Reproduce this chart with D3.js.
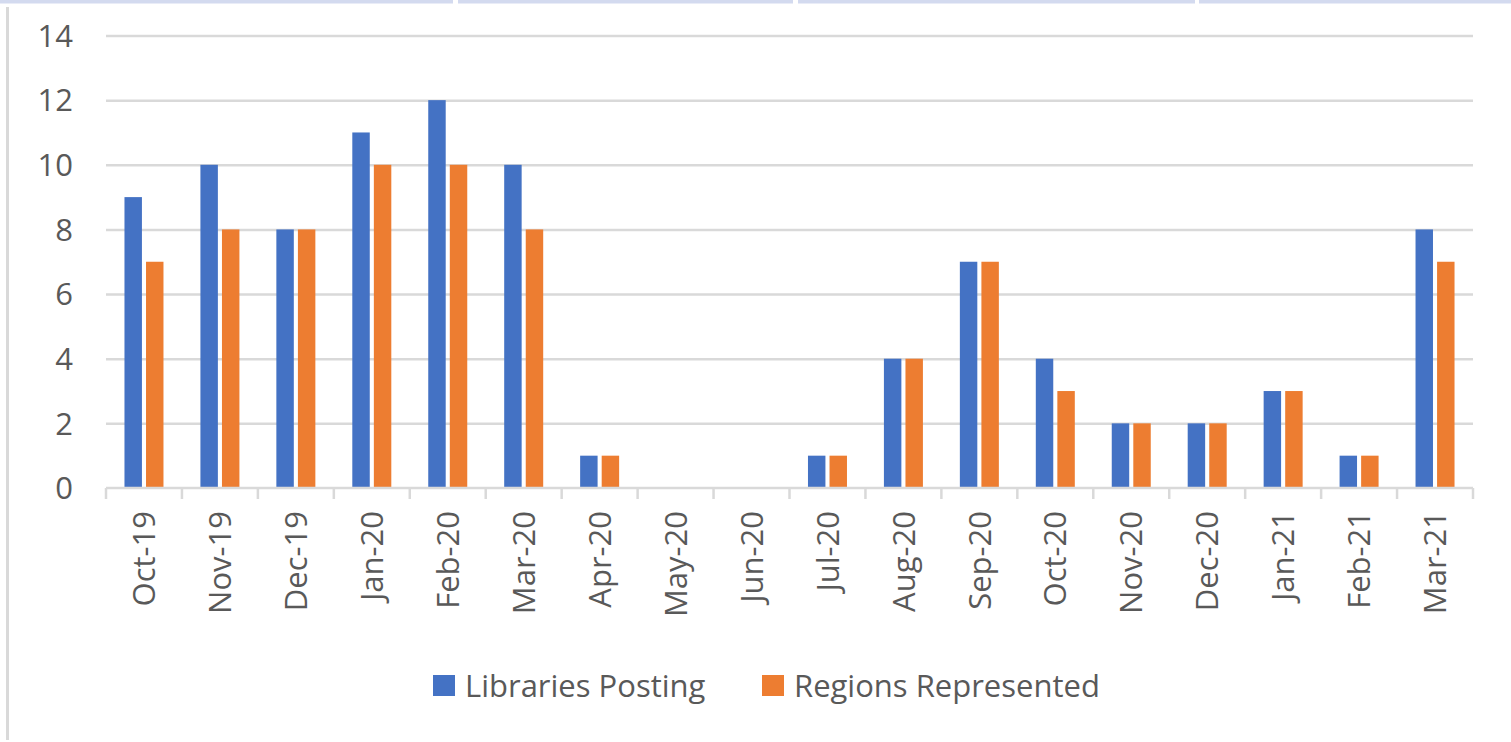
<!DOCTYPE html>
<meta charset="utf-8">
<head>
<style>
body {
  margin: 0;
  background: #fff;
  font-family: "Open Sans", sans-serif;
}
.grid line {
  stroke: #d9d9d9;
  stroke-width: 2.5px;
}
.lbl {
  fill: #595959;
  font-size: 31px;
}
</style>
<script src="https://d3js.org/d3.v7.min.js"></script>
</head>
<body>
<div id="chart"></div>
<script>

var months = ["Oct-19", "Nov-19", "Dec-19", "Jan-20", "Feb-20", "Mar-20", "Apr-20", "May-20", "Jun-20",
  "Jul-20", "Aug-20", "Sep-20", "Oct-20", "Nov-20", "Dec-20", "Jan-21", "Feb-21", "Mar-21"];
var libraries = [9, 10, 8, 11, 12, 10, 1, 0, 0, 1, 4, 7, 4, 2, 2, 3, 1, 8];
var regions = [7, 8, 8, 10, 10, 8, 1, 0, 0, 1, 4, 7, 3, 2, 2, 3, 1, 7];
var seriesNames = ["Libraries Posting", "Regions Represented"];
var yTicks = [0, 2, 4, 6, 8, 10, 12, 14];

var W = 1511, H = 742;

var svg = d3.select("#chart").append("svg")
  .attr("width", W)
  .attr("height", H);

// frame bits from the screenshot (top strip, left rule)
var strips = [[0, 453], [458, 793], [798, 1195], [1199, 1511]];
svg.selectAll(".strip")
  .data(strips)
  .enter().append("rect")
    .attr("x", function(d) { return d[0]; })
    .attr("width", function(d) { return d[1] - d[0]; })
    .attr("y", 0)
    .attr("height", 3.5)
    .attr("fill", "#d3daef");
svg.append("rect")
  .attr("x", 6).attr("y", 7).attr("width", 3).attr("height", 733)
  .attr("fill", "#d9d9d9");

var color = d3.scaleOrdinal()
  .domain(seriesNames)
  .range(["#4472c4", "#ed7d31"]);

var x0 = d3.scaleBand()
  .domain(months)
  .range([106, 1473])
  .padding(0);

var groupW = 39;
var x1 = d3.scaleBand()
  .domain(seriesNames)
  .range([0, groupW])
  .paddingInner(0.19);

var y = d3.scaleLinear()
  .domain([0, 14])
  .range([488, 35.5]);

// gridlines
svg.append("g")
  .attr("class", "grid")
  .attr("transform", "translate(106,0)")
  .call(d3.axisLeft(y).tickValues(yTicks.slice(1)).tickSize(-(1473 - 106)).tickFormat(""))
  .call(function(g) { g.select(".domain").remove(); });

// y labels
svg.selectAll(".ylab")
  .data(yTicks)
  .enter().append("text")
    .attr("class", "lbl")
    .attr("x", 73)
    .attr("y", function(d) { return y(d); })
    .attr("dy", "0.36em")
    .attr("text-anchor", "end")
    .text(function(d) { return d; });

// bars
var dataReady = months.map(function(m, i) {
  return {month: m, values: [
    {name: seriesNames[0], value: libraries[i]},
    {name: seriesNames[1], value: regions[i]}
  ]};
});

svg.selectAll(".group")
  .data(dataReady)
  .enter().append("g")
    .attr("transform", function(d) { return "translate(" + (x0(d.month) + (x0.bandwidth() - groupW) / 2) + ",0)"; })
  .selectAll("rect")
  .data(function(d) { return d.values; })
  .enter().append("rect")
    .attr("x", function(d) { return x1(d.name); })
    .attr("width", x1.bandwidth())
    .attr("y", function(d) { return y(d.value); })
    .attr("height", function(d) { return y(0) - y(d.value); })
    .attr("fill", function(d) { return color(d.name); });

// x axis line + boundary ticks
var xg = svg.append("g").attr("class", "grid");
xg.append("line")
  .attr("x1", 106).attr("x2", 1473)
  .attr("y1", y(0)).attr("y2", y(0));
xg.selectAll(".tk")
  .data(months.concat(["end"]))
  .enter().append("line")
    .attr("x1", function(d) { return d == "end" ? 1473 : x0(d); })
    .attr("x2", function(d) { return d == "end" ? 1473 : x0(d); })
    .attr("y1", y(0))
    .attr("y2", y(0) + 11);

// month labels, rotated
svg.selectAll(".xlab")
  .data(months)
  .enter().append("text")
    .attr("class", "lbl")
    .attr("text-anchor", "end")
    .attr("dy", "0.36em")
    .attr("transform", function(d) { return "translate(" + (x0(d) + x0.bandwidth() / 2) + ",511) rotate(-90)"; })
    .text(function(d) { return d; });

// legend
var legendX = [433, 762];
var leg = svg.selectAll(".leg")
  .data(seriesNames)
  .enter().append("g")
    .attr("transform", function(d, i) { return "translate(" + legendX[i] + ",675)"; });
leg.append("rect")
  .attr("width", 22).attr("height", 21)
  .attr("fill", function(d) { return color(d); });
leg.append("text")
  .attr("class", "lbl")
  .attr("x", 32)
  .attr("y", 22)
  .text(function(d) { return d; });

</script>
</body>
